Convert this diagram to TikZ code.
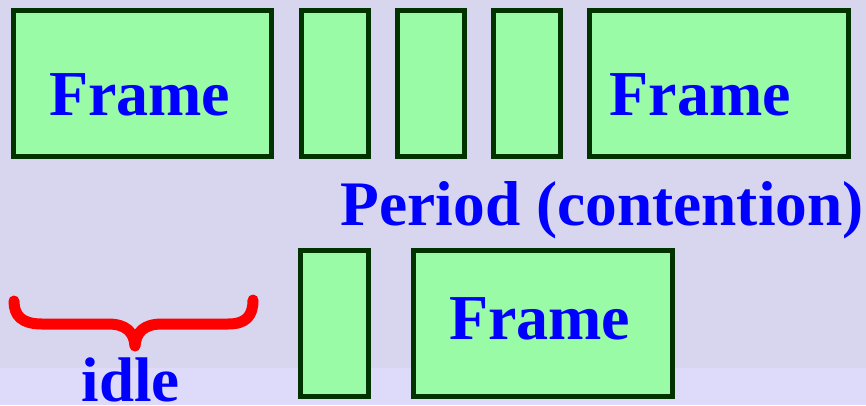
\documentclass[tikz,border=0pt]{standalone}
\usepackage{fontspec}
\setmainfont{Liberation Serif}
\definecolor{bgc}{RGB}{216,213,239}
\definecolor{bgl}{RGB}{222,218,249}
\definecolor{boxfill}{RGB}{153,251,166}
\definecolor{boxline}{RGB}{0,51,0}
\definecolor{txtblue}{RGB}{0,0,255}
\definecolor{bracered}{RGB}{255,0,0}
\begin{document}
\begin{tikzpicture}[x=1pt,y=-1pt,
  slot/.style={draw=boxline,fill=boxfill,line width=5pt,inner sep=0pt,outer sep=0pt,minimum height=146pt},
  lbl/.style={text=txtblue,font=\fontsize{64}{70}\selectfont\bfseries,inner sep=0pt,outer sep=0pt,anchor=base west},
  bracepath/.style={draw=bracered,line width=11pt,line cap=round,line join=round}]
\fill[bgc] (0,0) rectangle (866,405);
\fill[bgl] (0,368) rectangle (866,405);
\useasboundingbox (0,0) rectangle (866,405);
% top row
\node[slot,minimum width=258pt] (f1) at (142.5,83.5) {};
\node[slot,minimum width=67pt] (s1) at (334.7,83.5) {};
\node[slot,minimum width=67pt] (s2) at (430.9,83.5) {};
\node[slot,minimum width=67pt] (s3) at (526.7,83.5) {};
\node[slot,minimum width=259pt] (f2) at (718.7,83.5) {};
\node[lbl] (t1) at (49,115) {Frame};
\node[lbl] (t2) at (609.7,115) {Frame};
% middle label
\node[lbl,font=\fontsize{63.4}{70}\selectfont\bfseries] (per) at (340.7,225) {Period (contention)};
% bottom row
\node[slot,minimum width=67.4pt] (s4) at (334.5,323.6) {};
\node[slot,minimum width=259.3pt] (f3) at (542.9,323.6) {};
\node[lbl] (t3) at (449,339) {Frame};
% idle brace
\draw[bracepath] (14,301) .. controls (14,316) and (22,324) .. (42,324) -- (108,324)
  .. controls (126,324) and (134,332) .. (135,346)
  .. controls (136,332) and (144,324) .. (162,324) -- (228,324)
  .. controls (246,324) and (253,316) .. (253,300);
\node[lbl,font=\fontsize{63}{70}\selectfont\bfseries] (idle) at (81.7,401) {idle};
\end{tikzpicture}
\end{document}
